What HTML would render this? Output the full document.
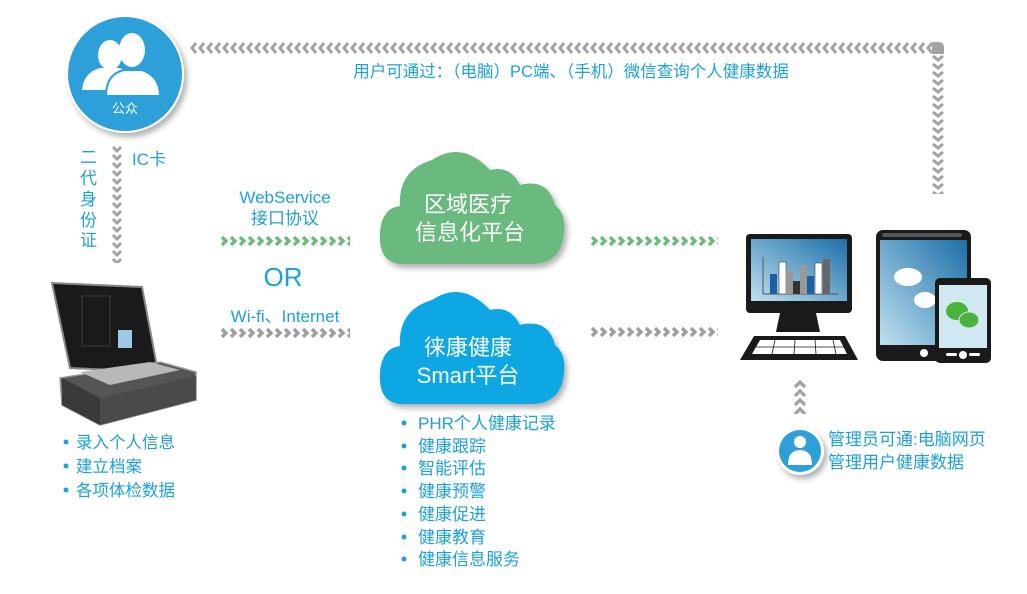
<!DOCTYPE html>
<html><head><meta charset="utf-8"><style>
html,body{margin:0;padding:0;background:#fff;}
body{width:1027px;height:594px;overflow:hidden;position:relative;font-family:"Liberation Sans","Noto Sans CJK SC",sans-serif;}
svg{position:absolute;left:0;top:0;}
.t{font-family:"Liberation Sans","Noto Sans CJK SC",sans-serif;}
</style></head><body>
<svg width="1027" height="594" viewBox="0 0 1027 594" xmlns="http://www.w3.org/2000/svg">
<defs>
<pattern id="pr" width="9" height="10" patternUnits="userSpaceOnUse" x="220" y="328"><polyline points="2,1 6,5 2,9" fill="none" stroke="#9e9e9e" stroke-width="3.4"/></pattern>
<pattern id="pr2" width="9" height="10" patternUnits="userSpaceOnUse" x="590" y="327"><polyline points="2,1 6,5 2,9" fill="none" stroke="#9e9e9e" stroke-width="3.4"/></pattern>
<pattern id="prg" width="9" height="10" patternUnits="userSpaceOnUse" x="220" y="236"><polyline points="2,1 6,5 2,9" fill="none" stroke="#6db97c" stroke-width="3.4"/></pattern>
<pattern id="prg2" width="9" height="10" patternUnits="userSpaceOnUse" x="590" y="236"><polyline points="2,1 6,5 2,9" fill="none" stroke="#6db97c" stroke-width="3.4"/></pattern>
<pattern id="pl" width="8" height="12" patternUnits="userSpaceOnUse" x="190" y="42"><polyline points="6,1 2,6 6,11" fill="none" stroke="#a3a3a3" stroke-width="3"/></pattern>
<pattern id="pd" width="12" height="8" patternUnits="userSpaceOnUse" x="932" y="54"><polyline points="1,2 6,6 11,2" fill="none" stroke="#a3a3a3" stroke-width="3"/></pattern>
<pattern id="pd2" width="10" height="8" patternUnits="userSpaceOnUse" x="112" y="145"><polyline points="1,2 5,6 9,2" fill="none" stroke="#a3a3a3" stroke-width="3"/></pattern>
<pattern id="pu" width="12" height="9" patternUnits="userSpaceOnUse" x="794" y="380"><polyline points="1,7 6,2 11,7" fill="none" stroke="#a3a3a3" stroke-width="3.4"/></pattern>
<filter id="sh" x="-20%" y="-20%" width="140%" height="150%"><feDropShadow dx="3" dy="4" stdDeviation="3" flood-color="#000" flood-opacity="0.3"/></filter>
<linearGradient id="scr" x1="0" y1="1" x2="1" y2="0"><stop offset="0" stop-color="#bfe0f0"/><stop offset="1" stop-color="#1d6fa8"/></linearGradient>
</defs>

<!-- top feedback arrow -->
<rect x="190" y="42" width="742" height="12" fill="url(#pl)"/>
<path d="M932,42 H938 Q944,42 944,48 V54 H932Z" fill="#a3a3a3"/>
<rect x="932" y="54" width="12" height="140" fill="url(#pd)"/>
<text class="t" x="571" y="77" font-size="16.5" fill="#1ea0dc" text-anchor="middle">用户可通过：（电脑）PC端、（手机）微信查询个人健康数据</text>

<!-- public circle -->
<circle cx="125" cy="74" r="59" fill="#fff" filter="url(#sh)"/>
<circle cx="125" cy="74" r="57" fill="#2d9fd9"/>
<g fill="#fff">
<ellipse cx="110" cy="55" rx="12" ry="15"/>
<path d="M82,90 Q84,72 100,68 L120,68 Q132,74 132,90Z"/>
<ellipse cx="132" cy="50" rx="13" ry="17"/>
<path d="M106,96 Q106,74 124,70 L142,70 Q160,76 160,96Z" stroke="#2d9fd9" stroke-width="2"/>
</g>
<text class="t" x="125" y="113" font-size="13" fill="#fff" text-anchor="middle">公众</text>

<!-- left vertical arrow -->
<rect x="112" y="145" width="10" height="118" fill="url(#pd2)"/>
<text class="t" font-size="17" fill="#1ea0dc"><tspan x="80" y="163">二</tspan><tspan x="80" y="184">代</tspan><tspan x="80" y="205">身</tspan><tspan x="80" y="226">份</tspan><tspan x="80" y="246">证</tspan></text>
<text class="t" x="132" y="165" font-size="17" fill="#1ea0dc">IC卡</text>

<!-- suitcase -->
<g>
<path d="M52,283 L142,287 L158,372 L70,368Z" fill="#1a1a1a" stroke="#888" stroke-width="2"/>
<rect x="82" y="296" width="28" height="50" fill="none" stroke="#555" stroke-width="0.6"/>
<rect x="118" y="330" width="14" height="18" fill="#9ec8e4"/>
<path d="M60,378 L160,362 L196,372 L196,400 L100,425 L62,405Z" fill="#555" stroke="#999" stroke-width="1.5"/>
<path d="M100,398 L196,376 L196,400 L100,425Z" fill="#4a4a4a"/>
<path d="M62,378 L100,398 L100,425 L62,405Z" fill="#3a3a3a"/>
<path d="M80,372 L150,362 L180,370 L110,385Z" fill="#b8b8b8"/>
</g>
<g class="t" font-size="16.5" fill="#1ea0dc">
<circle cx="66" cy="442" r="2.5" fill="#1ea0dc"/><text x="76" y="448">录入个人信息</text>
<circle cx="66" cy="466" r="2.5" fill="#1ea0dc"/><text x="76" y="472">建立档案</text>
<circle cx="66" cy="490" r="2.5" fill="#1ea0dc"/><text x="76" y="496">各项体检数据</text>
</g>

<!-- middle labels and arrows -->
<text class="t" x="285" y="203" font-size="17" fill="#1ea0dc" text-anchor="middle">WebService</text>
<text class="t" x="285" y="224" font-size="17" fill="#1ea0dc" text-anchor="middle">接口协议</text>
<rect x="220" y="236" width="130" height="10" fill="url(#prg)"/>
<text class="t" x="283" y="286" font-size="26" fill="#1ea0dc" text-anchor="middle">OR</text>
<text class="t" x="285" y="322" font-size="17" fill="#1ea0dc" text-anchor="middle">Wi-fi、Internet</text>
<rect x="220" y="328" width="130" height="10" fill="url(#pr)"/>
<rect x="590" y="236" width="128" height="10" fill="url(#prg2)"/>
<rect x="590" y="327" width="128" height="10" fill="url(#pr2)"/>

<!-- clouds -->
<g filter="url(#sh)">
<path d="M400,264 Q378,262 380,232 Q382,208 400,206 Q398,170 432,160 Q462,140 490,170 Q510,165 520,185 Q548,178 555,205 Q568,215 563,240 Q558,262 535,264Z" fill="#6bb97e"/>
<path d="M400,404 Q378,402 380,372 Q382,348 400,346 Q398,310 432,300 Q462,280 490,310 Q510,305 520,325 Q548,318 555,345 Q568,355 563,380 Q558,402 535,404Z" fill="#0ba8e4"/>
</g>
<g class="t" font-size="22" fill="#fff" text-anchor="middle">
<text x="468" y="212">区域医疗</text>
<text x="470" y="240">信息化平台</text>
<text x="468" y="355">徕康健康</text>
<text x="468" y="383">Smart平台</text>
</g>
<g class="t" font-size="17" fill="#1ea0dc">
<circle cx="404" cy="423" r="2.5" fill="#1ea0dc"/><text x="418" y="429">PHR个人健康记录</text>
<circle cx="404" cy="446" r="2.5" fill="#1ea0dc"/><text x="418" y="452">健康跟踪</text>
<circle cx="404" cy="468" r="2.5" fill="#1ea0dc"/><text x="418" y="474">智能评估</text>
<circle cx="404" cy="491" r="2.5" fill="#1ea0dc"/><text x="418" y="497">健康预警</text>
<circle cx="404" cy="514" r="2.5" fill="#1ea0dc"/><text x="418" y="520">健康促进</text>
<circle cx="404" cy="537" r="2.5" fill="#1ea0dc"/><text x="418" y="543">健康教育</text>
<circle cx="404" cy="559" r="2.5" fill="#1ea0dc"/><text x="418" y="565">健康信息服务</text>
</g>

<!-- computer -->
<rect x="746" y="234" width="106" height="79" rx="4" fill="#1a1a1a"/>
<rect x="751" y="239" width="96" height="62" fill="url(#scr)"/>
<g>
<line x1="763" y1="257" x2="763" y2="294" stroke="#555" stroke-width="1"/>
<line x1="763" y1="294" x2="838" y2="294" stroke="#555" stroke-width="1"/>
<rect x="770" y="274" width="7" height="20" fill="#1a5fa0"/>
<rect x="779" y="262" width="7" height="32" fill="#fff" stroke="#444" stroke-width="0.6"/>
<rect x="786" y="271" width="7" height="23" fill="#999"/>
<rect x="793" y="281" width="7" height="13" fill="#333"/>
<rect x="800" y="265" width="7" height="29" fill="#999"/>
<rect x="807" y="276" width="7" height="18" fill="#1a5fa0"/>
<rect x="815" y="263" width="7" height="31" fill="#fff" stroke="#444" stroke-width="0.6"/>
<rect x="823" y="259" width="7" height="35" fill="#666"/>
</g>
<path d="M780,313 L816,313 L820,332 L776,332Z" fill="#1a1a1a"/>
<path d="M754,336 L845,336 L858,360 L740,360Z" fill="#1a1a1a"/>
<path d="M760,340 L840,340 L847,354 L752,354Z" fill="#fff"/>
<g stroke="#1a1a1a" stroke-width="0.8"><line x1="756" y1="347" x2="844" y2="347"/><line x1="775" y1="340" x2="772" y2="354"/><line x1="795" y1="340" x2="794" y2="354"/><line x1="815" y1="340" x2="816" y2="354"/><line x1="833" y1="340" x2="836" y2="354"/></g>

<!-- tablet -->
<rect x="876" y="230" width="95" height="131" rx="7" fill="#1a1a1a"/>
<rect x="880" y="240" width="87" height="105" fill="url(#scr)"/>
<rect x="882" y="233" width="80" height="4" rx="2" fill="#555"/>
<ellipse cx="908" cy="277" rx="14" ry="9" fill="#fff"/>
<ellipse cx="925" cy="300" rx="11" ry="8" fill="#fff"/>
<circle cx="924" cy="353" r="4" fill="#fff"/>
<!-- phone -->
<rect x="935" y="278" width="56" height="85" rx="5" fill="#1a1a1a"/>
<rect x="939" y="285" width="48" height="63" fill="#cfe8f2"/>
<ellipse cx="957" cy="311" rx="11" ry="9" fill="#4bb33b"/>
<ellipse cx="969" cy="320" rx="10" ry="8" fill="#4bb33b" stroke="#cfe8f2" stroke-width="1"/>
<circle cx="963" cy="355" r="4" fill="#fff"/>
<rect x="946" y="353" width="11" height="3" rx="1.5" fill="#fff"/><rect x="969" y="353" width="11" height="3" rx="1.5" fill="#fff"/>

<!-- admin -->
<rect x="794" y="380" width="12" height="34" fill="url(#pu)"/>
<circle cx="800" cy="451" r="24" fill="#fff" filter="url(#sh)"/>
<circle cx="800" cy="451" r="21" fill="#2d9fd9"/>
<circle cx="800" cy="442" r="6" fill="#fff"/>
<path d="M788,465 Q788,450 800,450 Q812,450 812,465Z" fill="#fff"/>
<g class="t" font-size="17" fill="#1ea0dc"><text x="828" y="445">管理员可通:电脑网页</text><text x="828" y="468">管理用户健康数据</text></g>
</svg>
</body></html>
